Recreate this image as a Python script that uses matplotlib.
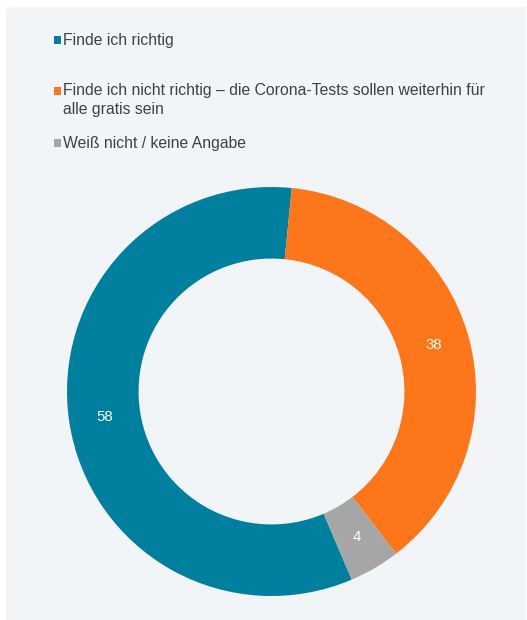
import matplotlib
matplotlib.use("Agg")
import matplotlib.pyplot as plt
from matplotlib.patches import Rectangle

categories = ["Finde ich richtig",
              "Finde ich nicht richtig – die Corona-Tests sollen weiterhin für\nalle gratis sein",
              "Weiß nicht / keine Angabe"]
values = [58, 38, 4]
colors = ["#007f9e", "#fd7619", "#a6a6a6"]

W, H = 527, 620
fig = plt.figure(figsize=(W / 100, H / 100), dpi=100)
fig.patch.set_facecolor("white")
plt.rcParams['font.family'] = ['Liberation Sans', 'DejaVu Sans']

# background panel
fig.patches.append(Rectangle((6 / W, 0), (526 - 6) / W, (H - 7) / H,
                             transform=fig.transFigure, facecolor="#f2f5f8",
                             edgecolor="none", zorder=-10))

cx, cy, R = 271.5, 391.5, 204.5
ax = fig.add_axes([(cx - R) / W, (H - cy - R) / H, 2 * R / W, 2 * R / H])
ax.set_zorder(5)
ax.patch.set_visible(False)
wedges, texts = ax.pie(values, colors=colors, startangle=-66.9, counterclock=False,
                       radius=1.0, labels=[str(v) for v in values],
                       labeldistance=0.825,
                       wedgeprops=dict(width=0.35, edgecolor="none"),
                       textprops=dict(color="white", fontsize=10.8, ha="center", va="center"))
ax.set_xlim(-1, 1)
ax.set_ylim(-1, 1)
ax.axis("off")

# legend
leg_y = [40, 100, 143]
sq_y = [40, 91, 143]
for lab, col, y, sy in zip(categories, colors, leg_y, sq_y):
    fig.patches.append(Rectangle((53.5 / W, 1 - (sy + 3.7) / H), 7.5 / W, 7.5 / H,
                                 transform=fig.transFigure, facecolor=col,
                                 edgecolor="none", zorder=1))
    fig.text(63 / W, 1 - y / H, lab, fontsize=11.3, color="#404040",
             ha="left", va="center", linespacing=1.3)

fig.savefig("out.png", dpi=100)
